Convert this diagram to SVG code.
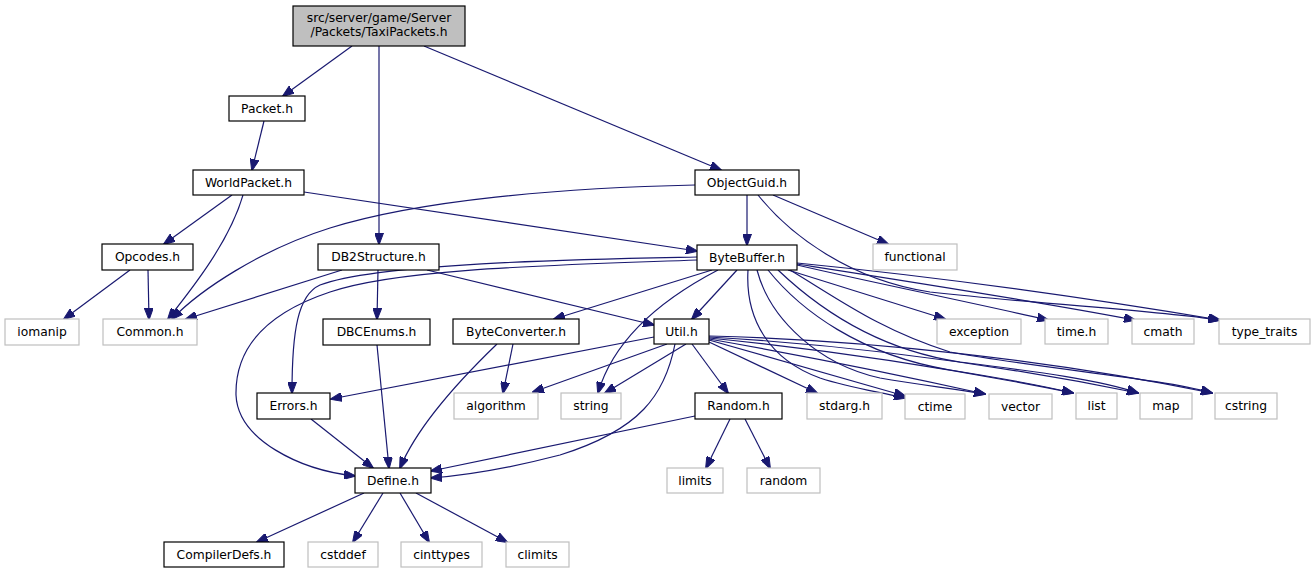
<svg xmlns="http://www.w3.org/2000/svg" width="1315" height="575" viewBox="0 0 1315 575">
<defs>
<style>
.n rect{fill:#ffffff;stroke:#000000;stroke-width:1.2}
.x rect{fill:#ffffff;stroke:#bfbfbf;stroke-width:1.2}
.r rect{fill:#bfbfbf;stroke:#000000;stroke-width:1.2}
text{font-family:"DejaVu Sans","Liberation Sans",sans-serif;font-size:12.3px;fill:#000000;text-anchor:middle}
#edges path{fill:none;stroke:#191970;stroke-width:1.2;marker-end:url(#a)}
</style>
<marker id="a" viewBox="0 0 12 9" refX="11" refY="4.5" markerWidth="12" markerHeight="9" markerUnits="userSpaceOnUse" orient="auto">
<path d="M0,0L12,4.5L0,9z" fill="#191970" stroke="#191970" stroke-width="1"/>
</marker>
</defs>
<rect x="0" y="0" width="1315" height="575" fill="#ffffff"/>
<g id="edges">
<path d="M352,46 L283,96"/>
<path d="M379,46 L379,244"/>
<path d="M424,46 L721,170"/>
<path d="M264,121 L252,170"/>
<path d="M232,195 L164,244"/>
<path d="M243,195 C230,240 195,285 168,319"/>
<path d="M304,192 L697,251"/>
<path d="M695,185 C560,188 420,200 330,228 C260,250 200,290 172,319"/>
<path d="M747,195 L747,245"/>
<path d="M773,195 L888,244"/>
<path d="M758,195 C790,235 850,280 930,292 C1050,305 1150,310 1219,320"/>
<path d="M130,270 L64,319"/>
<path d="M148,270 L149,319"/>
<path d="M342,270 L186,319"/>
<path d="M378,270 L377,319"/>
<path d="M427,270 L654,325"/>
<path d="M697,257 C600,259 380,262 320,285 C298,295 292,330 292,393"/>
<path d="M697,260 C560,265 400,268 330,292 C270,312 235,345 236,395 C238,440 300,470 355,476"/>
<path d="M712,270 L554,319"/>
<path d="M737,270 L692,319"/>
<path d="M718,270 C670,295 615,335 598,393"/>
<path d="M748,270 C745,320 770,360 820,378 C850,388 875,391 905,398"/>
<path d="M757,270 C770,320 820,365 880,378 C920,385 950,388 985,394"/>
<path d="M768,270 C800,310 860,355 950,370 C1000,378 1040,385 1073,393"/>
<path d="M778,270 C820,310 880,350 960,362 C1040,372 1100,380 1138,393"/>
<path d="M790,270 C840,300 880,330 950,352 C1050,370 1160,378 1212,393"/>
<path d="M788,270 L945,319"/>
<path d="M797,265 C870,282 960,300 1048,320"/>
<path d="M797,264 C900,280 1030,300 1135,320"/>
<path d="M797,263 C950,278 1100,300 1220,320"/>
<path d="M654,337 L331,399"/>
<path d="M675,344 C665,395 640,430 560,455 C510,468 470,475 431,478"/>
<path d="M667,344 L533,392"/>
<path d="M686,344 L605,393"/>
<path d="M692,344 L728,393"/>
<path d="M709,342 L817,393"/>
<path d="M709,340 C780,360 850,380 905,396"/>
<path d="M709,339 C800,355 900,375 985,394"/>
<path d="M709,338 C830,350 960,370 1073,393"/>
<path d="M709,337 C850,345 1000,365 1138,393"/>
<path d="M709,336 C870,340 1050,360 1212,393"/>
<path d="M513,344 L503,393"/>
<path d="M497,344 C470,370 420,420 400,468"/>
<path d="M377,345 L389,468"/>
<path d="M311,419 L373,468"/>
<path d="M695,416 L431,471"/>
<path d="M730,419 L706,468"/>
<path d="M745,419 L770,468"/>
<path d="M364,493 L257,542"/>
<path d="M383,493 L353,542"/>
<path d="M400,493 L429,542"/>
<path d="M416,493 L507,542"/>
</g>
<g id="n_taxi" class="r"><rect x="293" y="6" width="172" height="40"/><text x="379" y="22">src/server/game/Server</text><text x="379" y="36">/Packets/TaxiPackets.h</text></g>
<g id="n_packet" class="n"><rect x="229" y="96" width="76" height="25"/><text x="267" y="113">Packet.h</text></g>
<g id="n_worldpacket" class="n"><rect x="193" y="170" width="111" height="25"/><text x="248.5" y="187">WorldPacket.h</text></g>
<g id="n_objectguid" class="n"><rect x="695" y="170" width="104" height="25"/><text x="747" y="187">ObjectGuid.h</text></g>
<g id="n_opcodes" class="n"><rect x="102" y="244" width="91" height="26"/><text x="147.5" y="261">Opcodes.h</text></g>
<g id="n_db2structure" class="n"><rect x="318" y="244" width="121" height="26"/><text x="378.5" y="261">DB2Structure.h</text></g>
<g id="n_bytebuffer" class="n"><rect x="697" y="245" width="100" height="25"/><text x="747" y="262">ByteBuffer.h</text></g>
<g id="n_functional" class="x"><rect x="873" y="244" width="84" height="26"/><text x="915" y="261">functional</text></g>
<g id="n_iomanip" class="x"><rect x="5" y="319" width="74" height="26"/><text x="42" y="336">iomanip</text></g>
<g id="n_common" class="x"><rect x="103" y="319" width="94" height="26"/><text x="150" y="336">Common.h</text></g>
<g id="n_dbcenums" class="n"><rect x="323" y="319" width="107" height="26"/><text x="376.5" y="336">DBCEnums.h</text></g>
<g id="n_byteconverter" class="n"><rect x="453" y="319" width="126" height="25"/><text x="516" y="336">ByteConverter.h</text></g>
<g id="n_util" class="n"><rect x="654" y="319" width="55" height="25"/><text x="681.5" y="336">Util.h</text></g>
<g id="n_exception" class="x"><rect x="937" y="319" width="84" height="25"/><text x="979" y="336">exception</text></g>
<g id="n_timeh" class="x"><rect x="1045" y="319" width="63" height="25"/><text x="1076.5" y="336">time.h</text></g>
<g id="n_cmath" class="x"><rect x="1132" y="319" width="62" height="25"/><text x="1163" y="336">cmath</text></g>
<g id="n_type_traits" class="x"><rect x="1219" y="319" width="91" height="25"/><text x="1264.5" y="336">type_traits</text></g>
<g id="n_errors" class="n"><rect x="257" y="393" width="73" height="26"/><text x="293.5" y="410">Errors.h</text></g>
<g id="n_algorithm" class="x"><rect x="454" y="393" width="84" height="26"/><text x="496" y="410">algorithm</text></g>
<g id="n_string" class="x"><rect x="561" y="393" width="60" height="26"/><text x="591" y="410">string</text></g>
<g id="n_random_h" class="n"><rect x="695" y="393" width="87" height="26"/><text x="738.5" y="410">Random.h</text></g>
<g id="n_stdarg" class="x"><rect x="807" y="393" width="75" height="26"/><text x="844.5" y="410">stdarg.h</text></g>
<g id="n_ctime" class="x"><rect x="905" y="394" width="60" height="25"/><text x="935" y="411">ctime</text></g>
<g id="n_vector" class="x"><rect x="989" y="394" width="63" height="25"/><text x="1020.5" y="411">vector</text></g>
<g id="n_list" class="x"><rect x="1076" y="393" width="41" height="26"/><text x="1096.5" y="410">list</text></g>
<g id="n_map" class="x"><rect x="1140" y="393" width="52" height="26"/><text x="1166" y="410">map</text></g>
<g id="n_cstring" class="x"><rect x="1215" y="393" width="62" height="26"/><text x="1246" y="410">cstring</text></g>
<g id="n_define" class="n"><rect x="355" y="468" width="76" height="25"/><text x="393" y="485">Define.h</text></g>
<g id="n_limits" class="x"><rect x="667" y="468" width="56" height="25"/><text x="695" y="485">limits</text></g>
<g id="n_random" class="x"><rect x="747" y="468" width="73" height="25"/><text x="783.5" y="485">random</text></g>
<g id="n_compilerdefs" class="n"><rect x="164" y="542" width="120" height="25"/><text x="224" y="559">CompilerDefs.h</text></g>
<g id="n_cstddef" class="x"><rect x="308" y="542" width="70" height="25"/><text x="343" y="559">cstddef</text></g>
<g id="n_cinttypes" class="x"><rect x="401" y="542" width="81" height="25"/><text x="441.5" y="559">cinttypes</text></g>
<g id="n_climits" class="x"><rect x="506" y="542" width="63" height="25"/><text x="537.5" y="559">climits</text></g>
</svg>
